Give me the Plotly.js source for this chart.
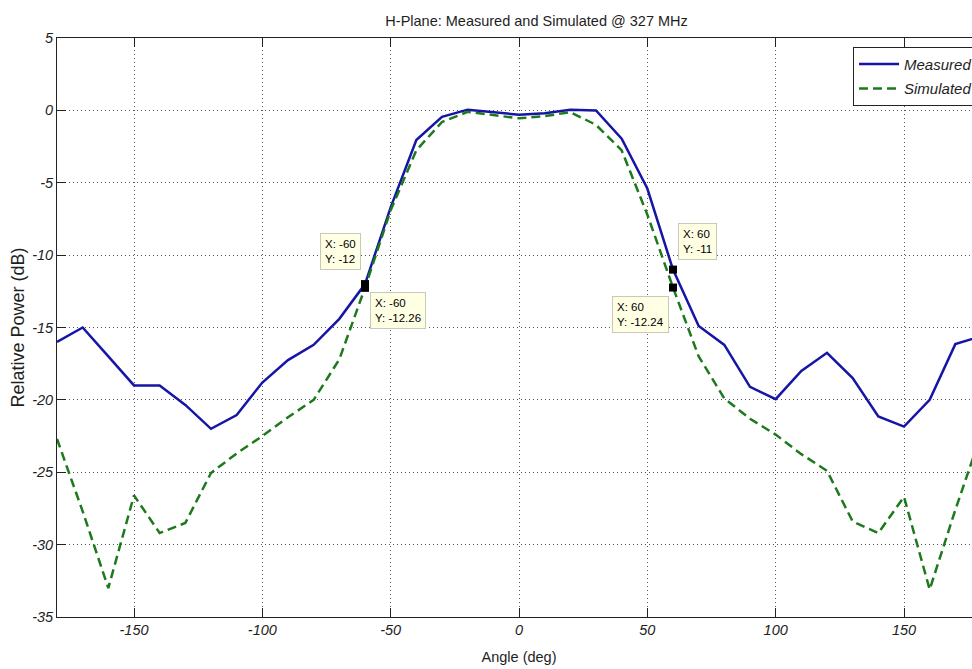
<!DOCTYPE html>
<html><head><meta charset="utf-8">
<script src="https://cdn.plot.ly/plotly-3.0.1.min.js"></script>
<style>html,body{margin:0;padding:0;overflow:hidden;background:#fff;}</style>
</head><body><div id="chart" style="width:1000px;height:669px;"></div>
<script>
const angles = [-180,-170,-160,-150,-140,-130,-120,-110,-100,-90,-80,-70,-60,-50,-40,-30,-20,-10,0,10,20,30,40,50,60,70,80,90,100,110,120,130,140,150,160,170,180];
const measured = [-16.0,-15.0,-17.0,-19.0,-19.0,-20.35,-22.0,-21.05,-18.8,-17.25,-16.2,-14.4,-12.0,-6.7,-2.05,-0.45,0.05,-0.15,-0.3,-0.2,0.05,0.0,-1.96,-5.4,-11.0,-14.9,-16.2,-19.1,-19.95,-18.0,-16.75,-18.5,-21.15,-21.85,-20.0,-16.15,-15.6];
const simulated = [-22.7,-27.7,-33.0,-26.6,-29.2,-28.5,-25.05,-23.7,-22.5,-21.2,-20.0,-17.2,-12.26,-6.9,-2.76,-0.8,-0.1,-0.34,-0.55,-0.4,-0.12,-1.0,-2.76,-7.2,-12.24,-17.0,-19.9,-21.3,-22.4,-23.75,-24.9,-28.4,-29.2,-26.7,-33.1,-27.6,-22.4];
const seriesNames = ['Measured','Simulated'];
const tipX = [-60,-60,60,60];
const tipY = [-12,-12.26,-11,-12.24];
const tipText = ['X: -60<br>Y: -12','X: -60<br>Y: -12.26','X: 60<br>Y: -11','X: 60<br>Y: -12.24'];
const xTickVals = [-150,-100,-50,0,50,100,150];
const xTickText = ['-150','-100','-50','0','50','100','150'];
const yTickVals = [5,0,-5,-10,-15,-20,-25,-30,-35];
const yTickText = ['5','0','-5','-10','-15','-20','-25','-30','-35'];
const titleText = 'H-Plane: Measured and Simulated @ 327 MHz';
const xTitle = 'Angle (deg)';
const yTitle = 'Relative Power (dB)';

const sans = "'Liberation Sans', Arial, sans-serif";
const txt = '#1e1e1e';

// placement of each data tip box relative to its point
const tipPlace = [
  {xanchor:'right', yanchor:'bottom', xshift:-4, yshift:14},
  {xanchor:'left', yanchor:'top', xshift:5, yshift:-4},
  {xanchor:'left', yanchor:'bottom', xshift:5, yshift:10},
  {xanchor:'right', yanchor:'top', xshift:-4, yshift:-8}
];

const traces = [
  {x: angles, y: measured, name: seriesNames[0], type:'scatter', mode:'lines', legendgroup:'m',
   line:{color:'#1515a6', width:2.5}},
  {x: angles, y: simulated, name: seriesNames[1], type:'scatter', mode:'lines', legendgroup:'s',
   line:{color:'#1c7a1c', width:2.5, dash:'9px,5px'}},
  {x: tipX, y: tipY, type:'scatter', mode:'markers', showlegend:false, hoverinfo:'skip',
   marker:{symbol:'square', size:8, color:'#000', line:{width:0}}}
];

const annotations = tipText.map((t,i) => Object.assign({
  x: tipX[i], y: tipY[i], xref:'x', yref:'y', text: t, showarrow:false, align:'left',
  font:{family: sans, size:11.5, color:'#000'},
  bgcolor:'#ffffe4', bordercolor:'#c9c9b8', borderwidth:1, borderpad:4
}, tipPlace[i]));

const axisCommon = {
  showline:true, linecolor:'#222', linewidth:1, mirror:'ticks',
  ticks:'inside', ticklen:9, tickcolor:'#222', tickwidth:1,
  showgrid:true, gridcolor:'#555', griddash:'1px,3px', gridwidth:1,
  zeroline:false, tickmode:'array',
  tickfont:{family: sans, size:14.5, color: txt, style:'italic'}
};

const layout = {
  width:1000, height:669,
  margin:{l:57, r:19, t:38, b:52},
  paper_bgcolor:'#fff', plot_bgcolor:'#fff',
  title:{text: titleText, x:0.519, xanchor:'center', xref:'paper', y:0.968, yref:'container', yanchor:'middle',
         font:{family: sans, size:14.5, color: txt}},
  xaxis: Object.assign({}, axisCommon, {range:[-180,180], tickvals:xTickVals, ticktext:xTickText,
         title:{text:xTitle, standoff:14, font:{family: sans, size:14.5, color: txt}}}),
  yaxis: Object.assign({}, axisCommon, {range:[-35,5], tickvals:yTickVals, ticktext:yTickText,
         title:{text:yTitle, standoff:2, font:{family: sans, size:18, color: txt}}}),
  legend:{x:0.8615, y:0.985, xanchor:'left', yanchor:'top', bgcolor:'#fff', bordercolor:'#222', borderwidth:1,
          font:{family: sans, size:15, color: txt, style:'italic'}, itemwidth:40,
          traceorder:'grouped', tracegroupgap:2},
  annotations: annotations,
  showlegend:true
};

Plotly.newPlot('chart', traces, layout, {displayModeBar:false, staticPlot:true});
</script></body></html>
